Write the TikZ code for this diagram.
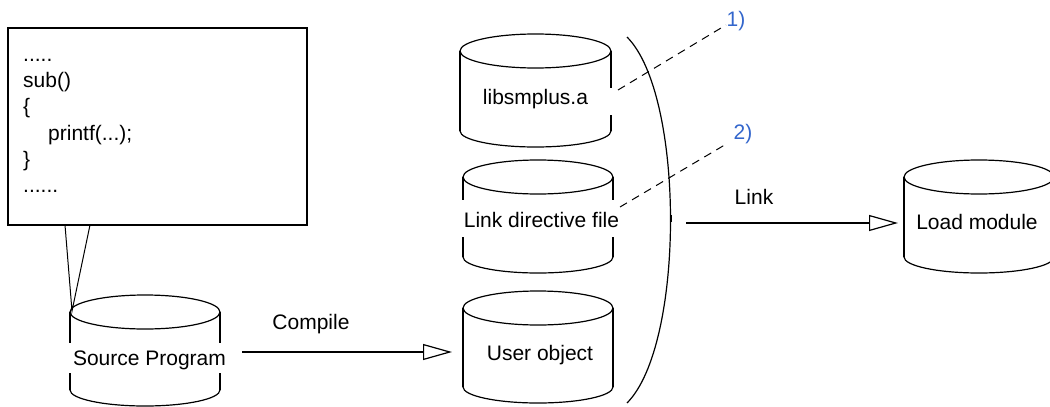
\documentclass[tikz,border=0pt]{standalone}
\usepackage{fontspec}
\setmainfont{Liberation Sans}
\usetikzlibrary{arrows.meta}
\definecolor{lblblue}{HTML}{3366CC}
\tikzset{
  lbl/.style={font=\fontsize{21}{25}\selectfont, inner sep=0pt, anchor=base},
  code/.style={font=\fontsize{21}{25}\selectfont, inner sep=0pt, anchor=base west},
  num/.style={font=\fontsize{21}{25}\selectfont, text=lblblue, inner sep=0pt},
  cylrim/.style={line width=1.2pt},
  cylside/.style={line width=1.8pt},
  flow/.style={line width=1.8pt, -{Triangle[open, length=29pt, width=16pt, line width=1.2pt]}},
  lead/.style={line width=1pt, dash pattern=on 8pt off 6pt},
  callout/.style={line width=2.2pt},
  tail/.style={line width=1pt},
  bracket/.style={line width=1.2pt}
}
\newcommand\cylrims[4]{%
  \draw[cylrim] (#1,#2) ellipse [x radius=#4, y radius=17];
  \draw[cylrim] (#1-#4,#3) arc[start angle=180, end angle=0, x radius=#4, y radius=16];
}
\begin{document}
\begin{tikzpicture}[x=1pt,y=-1pt]
\useasboundingbox (0,0) rectangle (1050,407);

% callout with code
\draw[callout] (8,28) rectangle (307,225);
\node[code] (l1) at (23,61)  {.....};
\node[code] (l2) at (23,87)  {sub()};
\node[code] (l3) at (23,113) {\{};
\node[code] (l4) at (48,140) {printf(...);};
\node[code] (l5) at (23,166) {\}};
\node[code] (l6) at (23,192) {......};
\coordinate (tA) at (65,225);
\coordinate (tB) at (90,225);
\coordinate (tC) at (72,311);
\draw[tail] (tA) -- (tC) -- (tB);

% Source Program cylinder
\cylrims{145}{312}{390}{75}
\draw[cylside] (70,312) -- (70,343);
\draw[cylside] (70,373) -- (70,390);
\draw[cylside] (220,312) -- (220,343);
\draw[cylside] (220,373) -- (220,390);
\node[lbl] (src) at (149.5,365) {Source Program};

% libsmplus.a cylinder
\cylrims{535.5}{51}{131}{75.5}
\draw[cylside] (460,51) -- (460,131);
\draw[cylside] (611,51) -- (611,88);
\draw[cylside] (611,115) -- (611,131);
\node[lbl] (lib) at (535.5,104.5) {libsmplus.a};

% Link directive file cylinder
\cylrims{538}{177}{257}{75}
\draw[cylside] (463,177) -- (463,200);
\draw[cylside] (463,237) -- (463,257);
\draw[cylside] (613,177) -- (613,200);
\draw[cylside] (613,237) -- (613,257);
\node[lbl] (ldf) at (541.5,227.5) {Link directive file};

% User object cylinder
\cylrims{538}{308}{387}{75}
\draw[cylside] (463,308) -- (463,387);
\draw[cylside] (613,308) -- (613,387);
\node[lbl] (uobj) at (540,360.5) {User object};

% Load module cylinder
\cylrims{979}{177}{257}{75}
\draw[cylside] (904,177) -- (904,257);
\draw[cylside] (1054,177) -- (1054,257);
\node[lbl] (load) at (977,229.5) {Load module};

% bracket
\coordinate (brT) at (627,37);
\coordinate (brB) at (627,403);
\draw[bracket] (brT) .. controls (685,95) and (685,345) .. (brB);
\coordinate (tk1) at (671,215);
\coordinate (tk2) at (671,222);
\draw[line width=1.8pt] (tk1) -- (tk2);

% leaders
\node[num] (n1) at (736,21) {1)};
\node[num] (n2) at (743,134) {2)};
\coordinate (d1s) at (618,90);
\coordinate (d1e) at (726,25);
\coordinate (d2s) at (620,207);
\coordinate (d2e) at (728,143);
\draw[lead] (d1s) -- (d1e);
\draw[lead] (d2s) -- (d2e);

% flows
\coordinate (cA) at (242,352);
\coordinate (cB) at (452,352);
\draw[flow] (cA) -- (cB);
\node[lbl] (comp) at (311,329.5) {Compile};
\coordinate (kA) at (686,223);
\coordinate (kB) at (898,223);
\draw[flow] (kA) -- (kB);
\node[lbl] (link) at (754,204.5) {Link};
\end{tikzpicture}
\end{document}
